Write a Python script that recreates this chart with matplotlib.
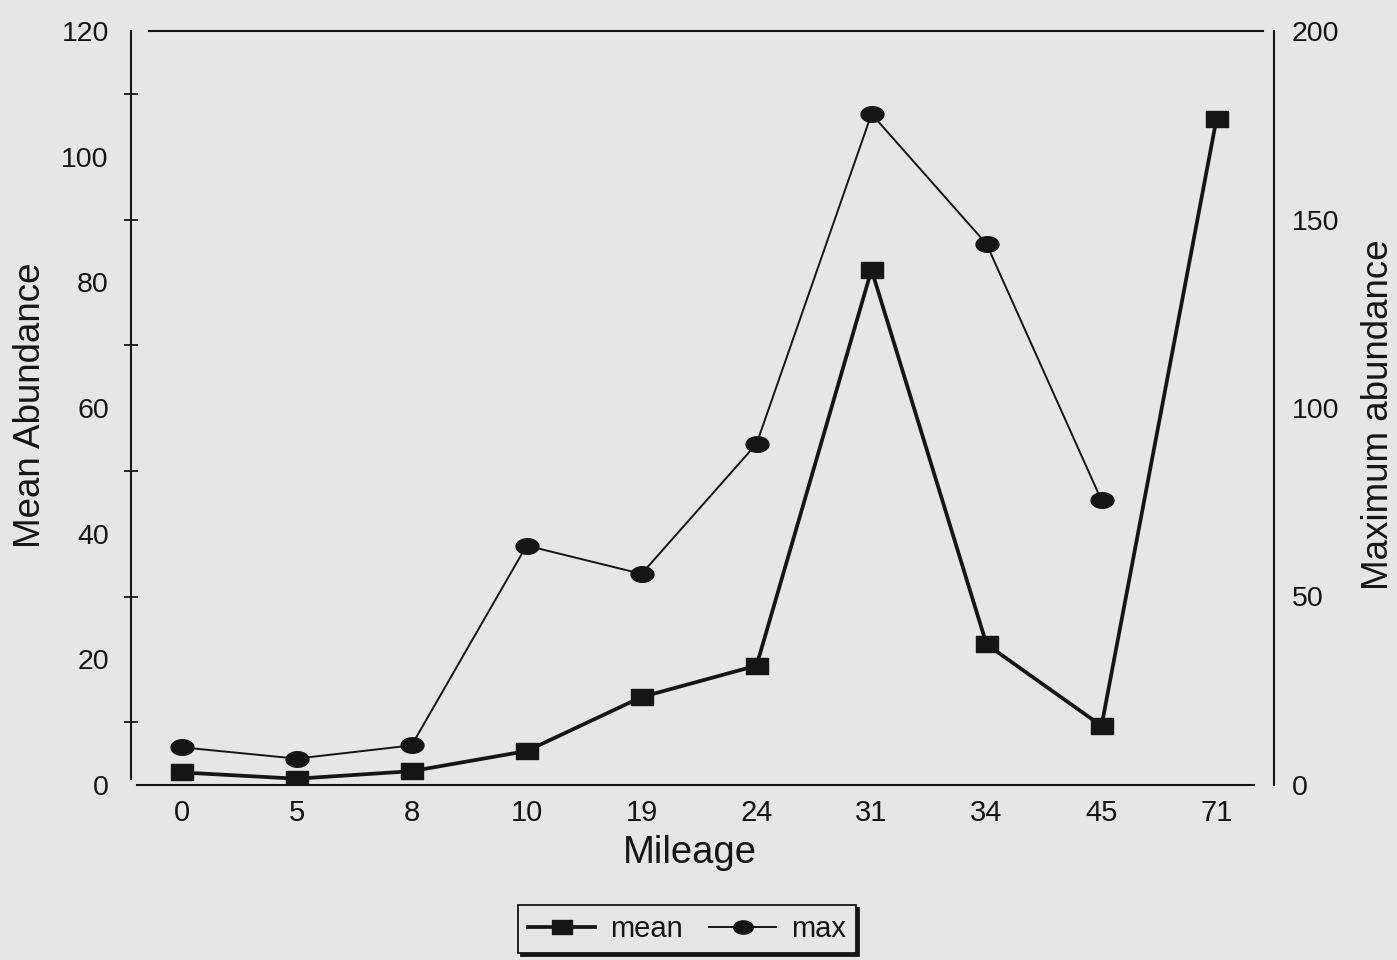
import numpy as np
import matplotlib
matplotlib.use("Agg")
import matplotlib.pyplot as plt
from matplotlib.path import Path

# ---- data ----
mileage = ["0", "5", "8", "10", "19", "24", "31", "34", "45", "71"]
mean_abundance = [2.0, 1.0, 2.2, 5.4, 14.0, 19.0, 82.0, 22.4, 9.4, 106.0]
max_abundance = [10.0, 7.0, 10.5, 63.5, 56.0, 90.5, 178.0, 143.5, 75.5, np.nan]
left_ticks = [0, 20, 40, 60, 80, 100, 120]
left_minor = [10, 30, 50, 70, 90, 110]
right_ticks = [0, 50, 100, 150, 200]

plt.rcParams['font.family'] = ['Liberation Sans', 'DejaVu Sans']
BG = '#e6e6e6'
INK = '#151515'

W, H = 1397, 960
fig = plt.figure(figsize=(W / 100, H / 100), dpi=100, facecolor=BG)
ax = fig.add_axes([131 / W, 1 - 785 / H, (1274 - 131) / W, (785 - 31) / H])
ax.set_facecolor(BG)

# custom flattened markers (scan is slightly squashed)
asp = 0.68
sq = Path([(-1, -asp), (1, -asp), (1, asp), (-1, asp), (-1, -asp)],
          [Path.MOVETO, Path.LINETO, Path.LINETO, Path.LINETO, Path.CLOSEPOLY])
t = np.linspace(0, 2 * np.pi, 60)
ell = Path(np.column_stack([np.cos(t), asp * np.sin(t)]), closed=True)

x = np.arange(len(mileage))
l1, = ax.plot(x, mean_abundance, color=INK, lw=2.7, marker=sq, ms=16.5,
              mfc=INK, mec=INK, label='mean', zorder=3)
ax.set_xlim(-0.44, 9.5)
ax.set_ylim(0, 120)

ax2 = ax.twinx()
l2, = ax2.plot(x, max_abundance, color=INK, lw=1.4, marker=ell, ms=16.5,
               mfc=INK, mec=INK, label='max', zorder=3)
ax2.set_ylim(0, 200)

# ticks
ax.set_xticks(x)
ax.set_xticklabels(mileage)
ax.tick_params(axis='x', length=0, pad=10, labelsize=21, colors=INK)
ax.set_yticks(left_ticks)
ax.tick_params(axis='y', which='major', length=0, pad=16, labelsize=20.5, colors=INK)
ax.set_yticks(left_minor, minor=True)
ax.tick_params(axis='y', which='minor', direction='inout', length=10, width=1.3, colors=INK)
ax2.set_yticks(right_ticks)
ax2.tick_params(axis='y', length=0, pad=13, labelsize=20.5, colors=INK)

# spines with small gaps like the original
for a in (ax, ax2):
    for s in a.spines.values():
        s.set_linewidth(1.5)
        s.set_color(INK)
ax2.spines['left'].set_visible(False)
ax2.spines['top'].set_visible(False)
ax2.spines['bottom'].set_visible(False)
ax.spines['right'].set_visible(False)
ax.spines['bottom'].set_bounds(-0.39, 9.33)
ax.spines['top'].set_bounds(-0.28, 9.4)
ax.spines['left'].set_bounds(1, 120)

# axis titles
fig.text(30 / W, 1 - 405 / H, 'Mean Abundance', rotation=90, ha='center',
         va='center', fontsize=26.5, color=INK)
fig.text(1378 / W, 1 - 415 / H, 'Maximum abundance', rotation=90, ha='center',
         va='center', fontsize=26.5, color=INK)
fig.text(690 / W, 1 - 853 / H, 'Mileage', ha='center', va='center',
         fontsize=27.5, color=INK)

leg = fig.legend(handles=[l1, l2], loc='center', bbox_to_anchor=(687 / W, 1 - 929 / H),
                 ncol=2, fontsize=21, frameon=True, fancybox=False,
                 shadow={'color': INK, 'alpha': 1}, handlelength=2.3,
                 handletextpad=0.5, columnspacing=0.9, borderpad=0.35,
                 markerscale=0.85)
leg.get_frame().set_edgecolor(INK)
leg.get_frame().set_linewidth(1.3)
leg.get_frame().set_facecolor(BG)
for txt in leg.get_texts():
    txt.set_color(INK)

fig.savefig('out.png', dpi=100, facecolor=BG)
